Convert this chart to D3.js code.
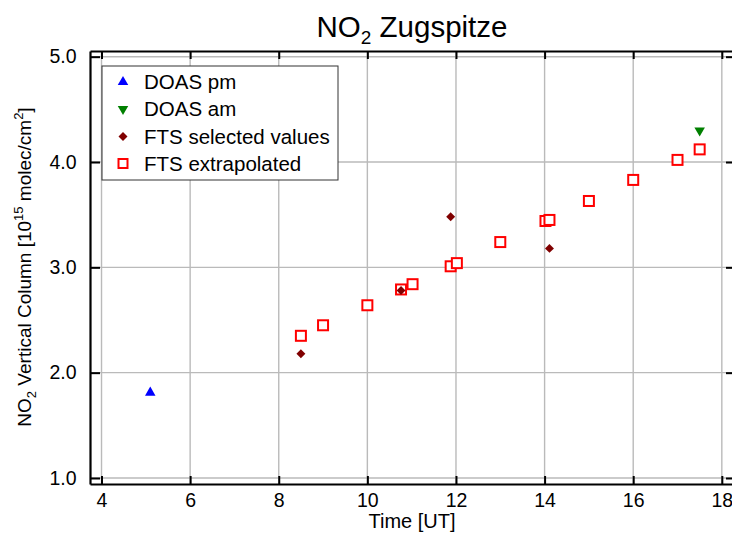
<!DOCTYPE html>
<html>
<head>
<meta charset="utf-8">
<script src="https://cdn.jsdelivr.net/npm/d3@7"></script>
<style>
  body { margin: 0; background: #fff; }
  svg { display: block; font-family: "Liberation Sans", Arial, Helvetica, sans-serif; }
</style>
</head>
<body>
<div id="chart"></div>
<script>
// Data
var doasPmTime = [5.1],
    doasPmValue = [1.81];

var doasAmTime = [17.5],
    doasAmValue = [4.30];

var ftsSelTime = [8.5, 10.76, 11.88, 14.11],
    ftsSelValue = [2.18, 2.78, 3.48, 3.18];

var ftsExtTime = [8.5, 9.0, 10.0, 10.76, 11.02, 11.88, 12.02, 13.0, 14.02, 14.11, 15.0, 16.0, 17.0, 17.5],
    ftsExtValue = [2.35, 2.45, 2.64, 2.79, 2.84, 3.01, 3.04, 3.24, 3.44, 3.45, 3.63, 3.83, 4.02, 4.12];

var xTicks = [4, 6, 8, 10, 12, 14, 16, 18],
    yTicks = [1.0, 2.0, 3.0, 4.0, 5.0];

var legendLabels = ["DOAS pm", "DOAS am", "FTS selected values", "FTS extrapolated"];

// Setup the svg

var width = 732,
    height = 534,
    margin = {top: 51, right: -4, bottom: 50, left: 90};

var svg = d3.select("#chart").append("svg")
    .attr("width", width)
    .attr("height", height);

var x = d3.scaleLinear()
    .domain([3.74, 18.32])
    .range([margin.left, width - margin.right]);

var y = d3.scaleLinear()
    .domain([0.943, 5.054])
    .range([height - margin.bottom, margin.top]);

// Grid lines

svg.append("g").selectAll("line.vgrid").data(xTicks)
  .enter().append("line")
    .attr("x1", function(d) { return x(d); })
    .attr("x2", function(d) { return x(d); })
    .attr("y1", y.range()[0])
    .attr("y2", y.range()[1])
    .style("stroke", "#bababa")
    .style("stroke-width", 1.4);

svg.append("g").selectAll("line.hgrid").data(yTicks)
  .enter().append("line")
    .attr("x1", x.range()[0])
    .attr("x2", x.range()[1])
    .attr("y1", function(d) { return y(d); })
    .attr("y2", function(d) { return y(d); })
    .style("stroke", "#bababa")
    .style("stroke-width", 1.4);

// Axes (ticks point inwards)

var axisBottom = svg.append("g")
    .attr("transform", "translate(0," + y.range()[0] + ")")
    .call(d3.axisBottom(x).tickValues(xTicks).tickSize(-8).tickPadding(9.5).tickSizeOuter(0));

var axisTop = svg.append("g")
    .attr("transform", "translate(0," + y.range()[1] + ")")
    .call(d3.axisTop(x).tickValues(xTicks).tickSize(-8).tickFormat("").tickSizeOuter(0));

var axisLeft = svg.append("g")
    .attr("transform", "translate(" + x.range()[0] + ",0)")
    .call(d3.axisLeft(y).tickValues(yTicks).tickSize(-10).tickPadding(13.5)
      .tickFormat(d3.format(".1f")).tickSizeOuter(0));

var axisRight = svg.append("g")
    .attr("transform", "translate(" + x.range()[1] + ",0)")
    .call(d3.axisRight(y).tickValues(yTicks).tickSize(-10).tickFormat("").tickSizeOuter(0));

[axisBottom, axisTop, axisLeft, axisRight].forEach(function(g) {
  g.select(".domain").style("stroke", "#000").style("stroke-width", 2.2);
  g.selectAll(".tick line").style("stroke", "#000").style("stroke-width", 2);
  g.selectAll(".tick text")
      .style("font-family", "'Liberation Sans', Arial, sans-serif")
      .style("font-size", "19.5px")
      .style("fill", "#000");
});

// Title and axis labels

var title = svg.append("text")
    .attr("x", 412)
    .attr("y", 37)
    .attr("text-anchor", "middle")
    .style("font-size", "29.5px");
title.append("tspan").text("NO");
title.append("tspan").attr("dy", 7).style("font-size", "19px").text("2");
title.append("tspan").attr("dy", -7).text(" Zugspitze");

svg.append("text")
    .attr("x", 412)
    .attr("y", 528)
    .attr("text-anchor", "middle")
    .style("font-size", "20px")
    .text("Time [UT]");

var ylab = svg.append("text")
    .attr("transform", "translate(31,267) rotate(-90)")
    .attr("text-anchor", "middle")
    .style("font-size", "19px");
ylab.append("tspan").text("NO");
ylab.append("tspan").attr("dy", 5).style("font-size", "13px").text("2");
ylab.append("tspan").attr("dy", -5).text(" Vertical Column [10");
ylab.append("tspan").attr("dy", -8).style("font-size", "13px").text("15");
ylab.append("tspan").attr("dy", 8).text(" molec/cm");
ylab.append("tspan").attr("dy", -8).style("font-size", "13px").text("2");
ylab.append("tspan").attr("dy", 8).text("]");

// Markers

var triUp = d3.symbol().type(d3.symbolTriangle).size(48);
var diamond = d3.symbol().type(d3.symbolSquare).size(40);

function drawSquares(g, xs, ys) {
  g.selectAll("rect").data(xs)
    .enter().append("rect")
      .attr("x", function(d) { return x(d) - 5; })
      .attr("y", function(d, i) { return y(ys[i]) - 5; })
      .attr("width", 10)
      .attr("height", 10)
      .style("fill", "#fff")
      .style("stroke", "#ff0000")
      .style("stroke-width", 2);
}

function drawSymbols(g, xs, ys, sym, color, rot) {
  g.selectAll("path").data(xs)
    .enter().append("path")
      .attr("d", sym)
      .attr("transform", function(d, i) {
        return "translate(" + x(d) + "," + y(ys[i]) + ") rotate(" + rot + ")";
      })
      .style("fill", color);
}

drawSquares(svg.append("g"), ftsExtTime, ftsExtValue);
drawSymbols(svg.append("g"), ftsSelTime, ftsSelValue, diamond, "#800000", 45);
drawSymbols(svg.append("g"), doasPmTime, doasPmValue, triUp, "#0000ff", 0);
drawSymbols(svg.append("g"), doasAmTime, doasAmValue, triUp, "#008000", 180);

// Legend

var legend = svg.append("g");
legend.append("rect")
    .attr("x", 102)
    .attr("y", 66)
    .attr("width", 236)
    .attr("height", 114)
    .style("fill", "#fff")
    .style("stroke", "#333")
    .style("stroke-width", 1);

var rowY = [82, 109, 136.5, 163.5];
var rows = legend.selectAll("g.row").data(legendLabels)
  .enter().append("g")
    .attr("transform", function(d, i) { return "translate(123," + rowY[i] + ")"; });

rows.append("text")
    .attr("x", 21)
    .attr("dy", "0.35em")
    .style("font-size", "20.5px")
    .text(function(d) { return d; });

rows.filter(function(d, i) { return i === 0; }).append("path")
    .attr("d", triUp).style("fill", "#0000ff");
rows.filter(function(d, i) { return i === 1; }).append("path")
    .attr("d", triUp).attr("transform", "rotate(180)").style("fill", "#008000");
rows.filter(function(d, i) { return i === 2; }).append("path")
    .attr("d", diamond).attr("transform", "rotate(45)").style("fill", "#800000");
rows.filter(function(d, i) { return i === 3; }).append("rect")
    .attr("x", -4.5).attr("y", -4.5).attr("width", 9).attr("height", 9)
    .style("fill", "#fff").style("stroke", "#ff0000").style("stroke-width", 2);
</script>
</body>
</html>
